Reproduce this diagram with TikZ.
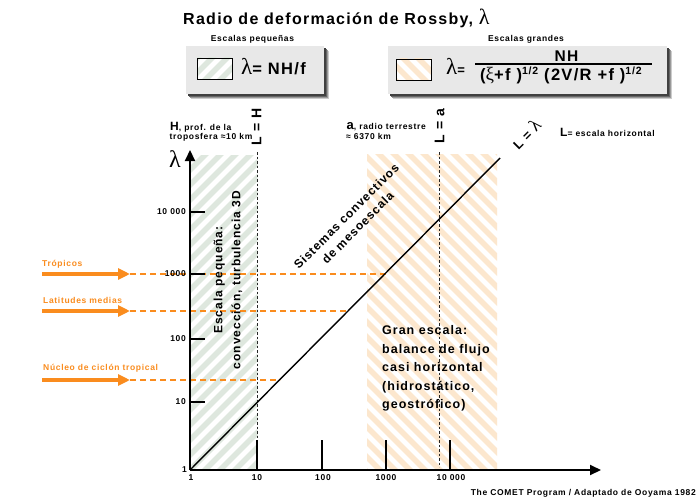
\documentclass[tikz,border=0pt]{standalone}
\usepackage{fontspec}
\setmainfont{Liberation Sans}[LetterSpace=8]
\newfontfamily\lserif{Liberation Serif}
\usetikzlibrary{arrows.meta}
\definecolor{orng}{RGB}{250,140,30}
\definecolor{hgreen}{RGB}{222,231,222}
\definecolor{horange}{RGB}{252,231,206}
\definecolor{boxgray}{RGB}{232,232,232}
\newcommand{\fs}[1]{\fontsize{#1}{#1}\selectfont}
\newcommand{\lam}{{\lserif\mdseries λ}}
\begin{document}
\begin{tikzpicture}[x=1pt,y=-1pt,
  every node/.style={inner sep=0pt},
  small/.style={font=\bfseries\fs{8.5}},
  olbl/.style={font=\bfseries\fs{8.5},text=orng,anchor=west},
  bigtxt/.style={font=\bfseries\fs{12.5},anchor=base west},
  axisline/.style={line width=2pt,-{Triangle[length=11pt,width=10pt]}},
  tickline/.style={line width=2pt},
  dotline/.style={line width=1.5pt,dash pattern=on 2.5pt off 2pt,black!85},
  oarrow/.style={orng,line width=4pt,-{Triangle[length=12pt,width=11pt]}},
  odash/.style={orng,line width=1.5pt,dash pattern=on 6pt off 4pt},
  gstripe/.style={hgreen,line width=5.5pt},
  ostripe/.style={horange,line width=5.5pt},
]
\useasboundingbox (0,0) rectangle (700,500);
\fill[white] (0,0) rectangle (700,500);

% hatched regions
\begin{scope}
\clip (190,155) rectangle (257.5,470);
\foreach \c in {330,345,...,735} \draw[gstripe] (\c-500,500) -- (\c,0);
\end{scope}
\begin{scope}
\clip (367,154) rectangle (497,470);
\foreach \c in {-120,-105,...,350} \draw[ostripe] (\c,0) -- (\c+500,500);
\end{scope}

% boxes with shadows
\foreach \o/\g in {5/20,4/40,3/60,2/75}{
  \fill[black!\g] (186+\o,46+\o) rectangle (324+\o,94+\o);
  \fill[black!\g] (388+\o,46+\o) rectangle (667+\o,94+\o);
}
\fill[boxgray] (186,46) rectangle (324,94);
\fill[boxgray] (388,46) rectangle (667,94);

% swatches
\fill[white] (197,58) rectangle (232,79);
\begin{scope}
\clip (197,58) rectangle (232,79);
\foreach \c in {240,255,...,320} \draw[gstripe] (\c-100,100) -- (\c,0);
\end{scope}
\draw[line width=0.8pt] (197,58) rectangle (232,79);
\fill[white] (396,59) rectangle (431,80);
\begin{scope}
\clip (396,59) rectangle (431,80);
\foreach \c in {300,315,...,375} \draw[ostripe] (\c,0) -- (\c+100,100);
\end{scope}
\draw[line width=0.8pt] (396,59) rectangle (431,80);

% title and headers
\node[anchor=base west,font=\bfseries\fs{16}] (title) at (183,25) {Radio de deformación de Rossby, {\fs{22}\lam}};
\node[small] (hp) at (252.5,39) {Escalas pequeñas};
\node[small] (hg) at (526,39) {Escalas grandes};

% formulas
\node[anchor=base west,font=\bfseries] (f1) at (241,75) {{\fs{23}\lam}\fs{16.5}= NH/f};
\node[anchor=base west,font=\bfseries] (f2) at (446,75) {{\fs{23}\lam}\fs{13}=};
\node[font=\bfseries\fs{15.5}] (nh) at (566.5,56.5) {NH};
\coordinate (fl1) at (475,64);
\coordinate (fl2) at (652,64);
\draw[line width=1.2pt] (fl1) -- (fl2);
\node[anchor=base west,font=\bfseries\fs{16.5}] (den) at (480,81) {({\fs{19}\lserif\mdseries ξ}+f )\raisebox{6pt}{\fs{10.5}1/2} (2V/R +f )\raisebox{6pt}{\fs{10.5}1/2}};

% upper labels
\node[anchor=base west,font=\bfseries] (hl1) at (170,130) {\fs{12}H\fs{8.5}, prof. de la};
\node[anchor=base west,small] (hl2) at (169.5,139.5) {troposfera ≈10 km};
\node[anchor=base west,font=\bfseries] (al1) at (346.5,129.5) {\fs{13}a\fs{8.5}, radio terrestre};
\node[anchor=base west,small] (al2) at (346,139.5) {≈ 6370 km};
\node[rotate=90,font=\bfseries\fs{14}] (lh) at (256.5,127) {L = H};
\node[rotate=90,font=\bfseries\fs{14}] (la) at (439.5,126) {L = a};
\node[rotate=45,font=\bfseries] (ll) at (526,134) {\fs{13}L = {\fs{18}\lam}};
\node[anchor=base west,font=\bfseries] (lx) at (560,136) {\fs{12}L\fs{8.5}= escala horizontal};

% dotted lines
\coordinate (lht) at (257.5,152);
\coordinate (lhb) at (257.5,440);
\coordinate (lat) at (439.5,152);
\coordinate (lab) at (439.5,467);
\draw[dotline] (lht) -- (lhb);
\draw[dotline] (lat) -- (lab);

% orange arrows and dashed lines
\coordinate (t1) at (42,274);  \coordinate (t2) at (130,274);  \coordinate (t3) at (386,274);
\coordinate (m1) at (42,311);  \coordinate (m2) at (130,311);  \coordinate (m3) at (349,311);
\coordinate (n1) at (42,380);  \coordinate (n2) at (130,380);  \coordinate (n3) at (280,380);
\draw[odash] (t2) -- (t3);
\draw[odash] (m2) -- (m3);
\draw[odash] (n2) -- (n3);
\draw[oarrow] (t1) -- (t2);
\draw[oarrow] (m1) -- (m2);
\draw[oarrow] (n1) -- (n2);
\node[olbl] (trop) at (42,264) {Trópicos};
\node[olbl] (latm) at (43,300.7) {Latitudes medias};
\node[olbl] (nuc) at (43,368.3) {Núcleo de ciclón tropical};

% axes
\coordinate (O) at (190,470);
\coordinate (Ytop) at (190,150);
\coordinate (Xend) at (601,470);
\draw[axisline] (O) -- (Ytop);
\draw[axisline] (O) -- (Xend);
\node[font=\lserif\fs{24}] (lamax) at (175,159) {λ};

\foreach \y/\lab in {402/10,339/100,274/1000,212/10 000}{
  \draw[tickline] (190,\y) -- (205,\y);
  \node[small,anchor=east] (yl\y) at (186,\y) {\lab};
}
\node[small,anchor=east] (y1) at (187,470) {1};
\foreach \x in {257,322,386,450}{
  \draw[tickline] (\x,470) -- (\x,440);
}
\node[small] (x1) at (191,478) {1};
\node[small] (x10) at (257,478) {10};
\node[small] (x100) at (323,478) {100};
\node[small] (x1000) at (386,478) {1000};
\node[small] (x10000) at (451,478) {10 000};

% diagonal
\coordinate (D) at (500,158);
\draw[line width=1.4pt] (O) -- (D);

% region texts
\node[rotate=90,align=center,font=\bfseries\fontsize{12}{18}\selectfont] (esc) at (228,280) {Escala pequeña:\\convección, turbulencia 3D};
\node[rotate=45,align=center,font=\bfseries\fontsize{12}{16}\selectfont] (sis) at (352,222) {Sistemas convectivos\\de mesoescala};
\node[bigtxt] (g1) at (382,334.5) {Gran escala:};
\node[bigtxt] (g2) at (382,353) {balance de flujo};
\node[bigtxt] (g3) at (382,371.5) {casi horizontal};
\node[bigtxt] (g4) at (382,390) {(hidrostático,};
\node[bigtxt] (g5) at (382,408.5) {geostrófico)};

% credit
\node[small,anchor=base east] (cr) at (696,495) {The COMET Program / Adaptado de Ooyama 1982};
\end{tikzpicture}
\end{document}
